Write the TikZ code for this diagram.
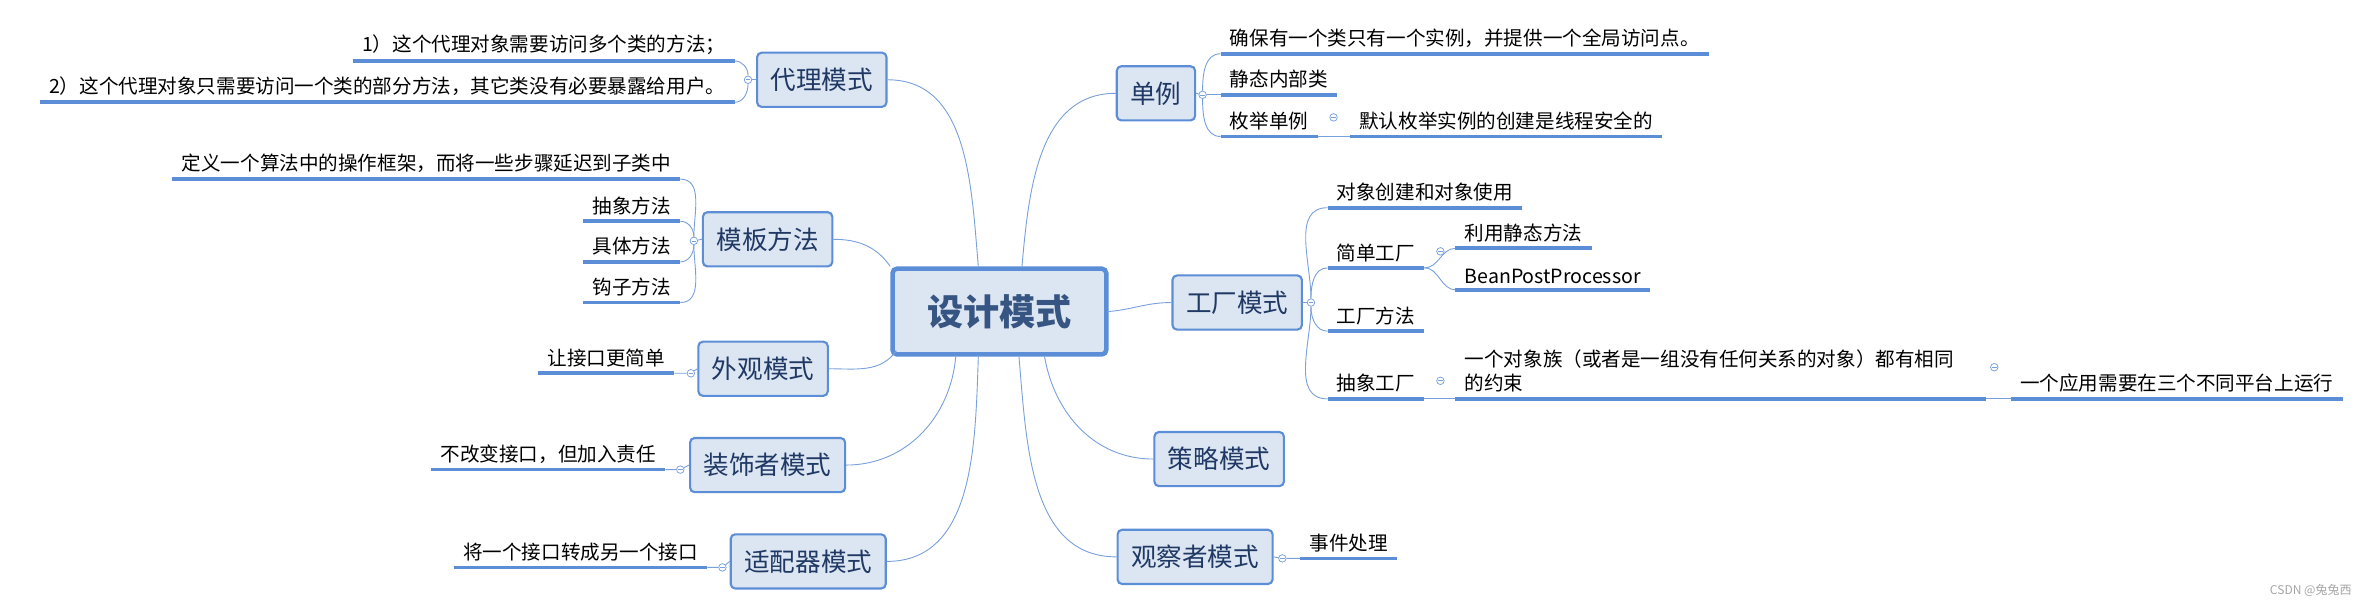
\documentclass[tikz,border=0pt]{standalone}
\usepackage{fontspec}
\setmainfont{Noto Sans CJK SC}
\usetikzlibrary{positioning,calc}
\definecolor{boxfill}{RGB}{220,230,242}
\definecolor{boxline}{RGB}{91,142,214}
\definecolor{linkblue}{RGB}{120,160,220}
\definecolor{boxtext}{RGB}{31,56,100}
\definecolor{roottext}{RGB}{55,85,130}
\tikzset{
  topic/.style={draw=boxline, line width=1.4pt, fill=boxfill, rounded corners=3pt,
    minimum height=36pt, inner xsep=9pt, text=boxtext,
    font=\fontsize{17}{20}\selectfont},
  root/.style={topic, line width=3pt, minimum width=142pt, minimum height=57pt,
    text=roottext, font=\fontsize{24}{28}\selectfont\bfseries},
  leafr/.style={anchor=south west, inner xsep=6pt, inner ysep=4pt,
    font=\fontsize{13}{16}\selectfont,
    append after command={(\tikzlastnode.south west) edge[uline] (\tikzlastnode.south east)}},
  leafl/.style={leafr, anchor=south east},
  uline/.style={draw=boxline, line width=2.5pt},
  link/.style={draw=linkblue, line width=0.6pt},
  fold/.style={circle, draw=linkblue, fill=white, line width=0.5pt, minimum size=5pt,
    inner sep=0pt, path picture={\draw[linkblue, line width=0.4pt]
      ($(path picture bounding box.west)+(1pt,0)$) -- ($(path picture bounding box.east)+(-1pt,0)$);}}
}
\begin{document}
\begin{tikzpicture}[x=1pt,y=1pt]
	\useasboundingbox (0,0) rectangle (1568,-401);
	
	% central topic
	\node[root] (C) at (664,-207) {设计模式};
	
	% left topics
	\node[topic] (daili) at (546,-53) {代理模式};
	\node[topic] (muban) at (510,-159) {模板方法};
	\node[topic] (waiguan) at (507,-245) {外观模式};
	\node[topic] (zhuangshi) at (510,-309) {装饰者模式};
	\node[topic] (shipei) at (537,-373) {适配器模式};
	
	% right topics
	\node[topic] (danli) at (768,-62) {单例};
	\node[topic] (gongchang) at (822,-201) {工厂模式};
	\node[topic] (celue) at (810,-305) {策略模式};
	\node[topic] (guancha) at (794,-370) {观察者模式};
	
	% links from the centre
	\draw[link] ($(C.north)+(-14,0)$) to[out=95,in=0] (daili.east);
	\draw[link] (C.north west) to[out=125,in=0] (muban.east);
	\draw[link] ($(C.south west)+(4,4)$) to[out=-125,in=0] (waiguan.east);
	\draw[link] ($(C.south)+(-29,0)$) to[out=-95,in=0] (zhuangshi.east);
	\draw[link] ($(C.south)+(-14,0)$) to[out=-92,in=0] (shipei.east);
	\draw[link] ($(C.north)+(15,0)$) to[out=85,in=180] (danli.west);
	\draw[link] (C.east) to[out=5,in=180] (gongchang.west);
	\draw[link] ($(C.south)+(30,0)$) to[out=-80,in=180] (celue.west);
	\draw[link] ($(C.south)+(13,0)$) to[out=-85,in=180] (guancha.west);
	
	% fold marks
	\node[fold] (fd) at (497,-53) {};
	\node[fold] (fm) at (461,-160) {};
	\node[fold] (fw) at (459,-248) {};
	\node[fold] (fz) at (452,-312) {};
	\node[fold] (fs) at (480,-377) {};
	\node[fold] (fdl) at (799,-63) {};
	\node[fold] (fg) at (871,-201) {};
	\node[fold] (fgc) at (852,-371) {};
	
	% leaves: 代理模式
	\node[leafl] (d1) at (488,-40.5) {1）这个代理对象需要访问多个类的方法；};
	\node[leafl] (d2) at (488,-68) {2）这个代理对象只需要访问一个类的部分方法，其它类没有必要暴露给用户。};
	\draw[link] (daili.west) -- (fd);
	\draw[link] (fd) to[out=90,in=0] (d1.south east);
	\draw[link] (fd) to[out=-90,in=0] (d2.south east);
	
	% leaves: 模板方法
	\node[leafl] (m1) at (452,-119) {定义一个算法中的操作框架，而将一些步骤延迟到子类中};
	\node[leafl] (m2) at (452,-147) {抽象方法};
	\node[leafl] (m3) at (452,-174) {具体方法};
	\node[leafl] (m4) at (452,-201) {钩子方法};
	\draw[link] (muban.west) -- (fm);
	\draw[link] (fm) to[out=90,in=0] (m1.south east);
	\draw[link] (fm) to[out=90,in=0] (m2.south east);
	\draw[link] (fm) to[out=-90,in=0] (m3.south east);
	\draw[link] (fm) to[out=-90,in=0] (m4.south east);
	
	% leaves: 外观, 装饰者, 适配器
	\node[leafl] (w1) at (448,-248) {让接口更简单};
	\node[leafl] (z1) at (442,-312) {不改变接口，但加入责任};
	\node[leafl] (s1) at (470,-377) {将一个接口转成另一个接口};
	\draw[link] (waiguan.west) -- (fw) -- (w1.south east);
	\draw[link] (zhuangshi.west) -- (fz) -- (z1.south east);
	\draw[link] (shipei.west) -- (fs) -- (s1.south east);
	
	% leaves: 单例
	\node[leafr] (dl1) at (811,-35.7) {确保有一个类只有一个实例，并提供一个全局访问点。};
	\node[leafr] (dl2) at (811,-63) {静态内部类};
	\node[leafr] (dl3) at (811,-90.7) {枚举单例};
	\node[fold] (fdl3) at (886,-78) {};
	\node[leafr] (dl4) at (897,-90.7) {默认枚举实例的创建是线程安全的};
	\draw[link] (danli.east) -- (fdl);
	\draw[link] (fdl) to[out=90,in=180] (dl1.south west);
	\draw[link] (fdl) -- (dl2.south west);
	\draw[link] (fdl) to[out=-90,in=180] (dl3.south west);
	\draw[link] (dl3.south east) -- (dl4.south west);
	
	% leaves: 工厂模式
	\node[leafr] (g1) at (882,-138) {对象创建和对象使用};
	\node[leafr] (g2) at (882,-178) {简单工厂};
	\node[fold] (fg2) at (957,-167) {};
	\node[leafr] (g21) at (967,-165) {利用静态方法};
	\node[leafr] (g22) at (967,-192.5) {BeanPostProcessor};
	\node[leafr] (g3) at (882,-220) {工厂方法};
	\node[leafr] (g4) at (882,-265) {抽象工厂};
	\node[fold] (fg4) at (957,-253) {};
	\node[leafr, text width=340pt, align=left] (g41) at (967,-265) {一个对象族（或者是一组没有任何关系的对象）都有相同\\的约束};
	\node[fold] (fg41) at (1325,-244) {};
	\node[leafr] (g411) at (1336,-265) {一个应用需要在三个不同平台上运行};
	\draw[link] (gongchang.east) -- (fg);
	\draw[link] (fg) to[out=90,in=180] (g1.south west);
	\draw[link] (fg) to[out=90,in=180] (g2.south west);
	\draw[link] (fg) to[out=-90,in=180] (g3.south west);
	\draw[link] (fg) to[out=-90,in=180] (g4.south west);
	\draw[link] (g2.south east) to[out=0,in=180] (g21.south west);
	\draw[link] (g2.south east) to[out=0,in=180] (g22.south west);
	\draw[link] (g4.south east) -- (g41.south west);
	\draw[link] (g41.south east) -- (g411.south west);
	
	% leaves: 观察者模式
	\node[leafr] (o1) at (864,-371) {事件处理};
	\draw[link] (guancha.east) -- (fgc) -- (o1.south west);
	
	% watermark
	\node[anchor=east, text=gray!70, font=\fontsize{8}{10}\selectfont] (wm) at (1566,-392) {CSDN @兔兔西};
\end{tikzpicture}
\end{document}
